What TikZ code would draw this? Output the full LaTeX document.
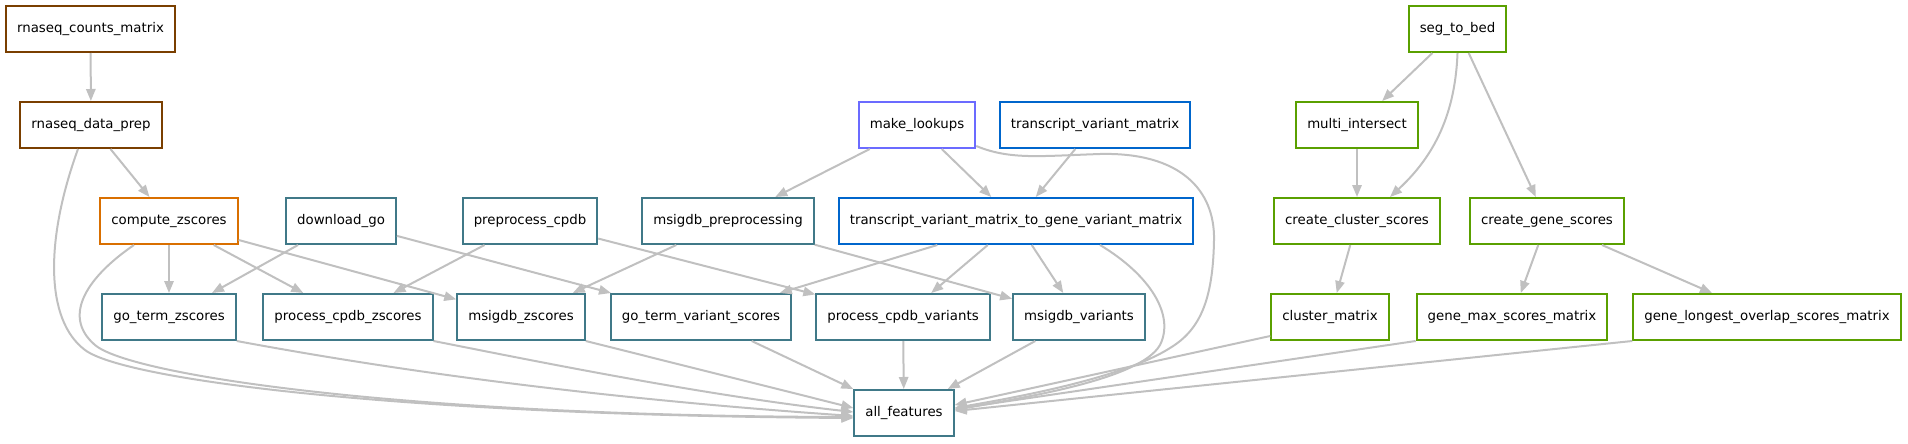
\documentclass[tikz,border=0pt]{standalone}
\usepackage{fontspec}
\setmainfont{DejaVu Sans}
\usetikzlibrary{arrows.meta,calc}

\definecolor{brownjob}{RGB}{122,63,0}
\definecolor{orangejob}{RGB}{217,111,0}
\definecolor{tealjob}{RGB}{64,121,136}
\definecolor{purplejob}{RGB}{107,107,255}
\definecolor{bluejob}{RGB}{0,102,204}
\definecolor{greenjob}{RGB}{90,160,0}
\definecolor{edgegray}{RGB}{192,192,192}

\tikzset{
  job/.style={draw, line width=1.5pt, fill=white, text=black, minimum height=34.5pt,
    inner xsep=8.25pt, font={\fontsize{10pt}{12pt}\selectfont}},
  dep/.style={draw=edgegray, line width=1.5pt,
    -{Triangle[length=9pt,width=7pt]}}
}

\begin{document}
\begin{tikzpicture}[x=0.75pt,y=-0.75pt]
    \useasboundingbox (0,0) rectangle (1908,443);

    \node[job, draw=brownjob] (counts) at (90.5, 29) {rnaseq\_counts\_matrix};
    \node[job, draw=greenjob] (segbed) at (1457.5, 29) {seg\_to\_bed};

    \node[job, draw=brownjob] (prep) at (91, 125) {rnaseq\_data\_prep};
    \node[job, draw=purplejob] (lookups) at (917, 125) {make\_lookups};
    \node[job, draw=bluejob] (tvm) at (1095, 125) {transcript\_variant\_matrix};
    \node[job, draw=greenjob] (multi) at (1357, 125) {multi\_intersect};

    \node[job, draw=orangejob] (compute) at (169, 221) {compute\_zscores};
    \node[job, draw=tealjob] (downloadgo) at (341, 221) {download\_go};
    \node[job, draw=tealjob] (precpdb) at (530, 221) {preprocess\_cpdb};
    \node[job, draw=tealjob] (msigprep) at (728, 221) {msigdb\_preprocessing};
    \node[job, draw=bluejob] (tvmgvm) at (1016, 221) {transcript\_variant\_matrix\_to\_gene\_variant\_matrix};
    \node[job, draw=greenjob] (clusterscores) at (1357, 221) {create\_cluster\_scores};
    \node[job, draw=greenjob] (genescores) at (1547, 221) {create\_gene\_scores};

    \node[job, draw=tealjob] (gotermz) at (169, 317) {go\_term\_zscores};
    \node[job, draw=tealjob] (cpdbz) at (348, 317) {process\_cpdb\_zscores};
    \node[job, draw=tealjob] (msigz) at (521, 317) {msigdb\_zscores};
    \node[job, draw=tealjob] (gotermvar) at (701, 317) {go\_term\_variant\_scores};
    \node[job, draw=tealjob] (cpdbvar) at (903, 317) {process\_cpdb\_variants};
    \node[job, draw=tealjob] (msigvar) at (1079, 317) {msigdb\_variants};
    \node[job, draw=greenjob] (clustermat) at (1330, 317) {cluster\_matrix};
    \node[job, draw=greenjob] (genemax) at (1512, 317) {gene\_max\_scores\_matrix};
    \node[job, draw=greenjob] (genelongest) at (1767, 317) {gene\_longest\_overlap\_scores\_matrix};

    \node[job, draw=tealjob] (allfeat) at (904, 413) {all\_features};

    \draw[dep] (counts) -- (prep);
    \draw[dep] (prep) -- (compute);
    \draw[dep] ($(prep.south)+(-13,0)$) .. controls (45,240) and (45,320) .. (85,350)
        .. controls (125,380) and (400,415) .. ($(allfeat.west)+(0,5)$);
    \draw[dep] (compute) -- (gotermz);
    \draw[dep] (compute) -- (cpdbz);
    \draw[dep] (compute) -- (msigz);
    \draw[dep] ($(compute.south)+(-35,0)$) .. controls (90,275) and (60,315) .. (95,345)
        .. controls (130,375) and (400,416) .. ($(allfeat.west)+(0,4)$);
    \draw[dep] (downloadgo) -- (gotermz);
    \draw[dep] (downloadgo) -- (gotermvar);
    \draw[dep] (precpdb) -- (cpdbz);
    \draw[dep] (precpdb) -- (cpdbvar);
    \draw[dep] (msigprep) -- (msigz);
    \draw[dep] (msigprep) -- (msigvar);
    \draw[dep] (lookups) -- (msigprep);
    \draw[dep] (lookups) -- (tvmgvm);
    \draw[dep] ($(lookups.east)+(0,21)$) .. controls (1010,160) and (1040,156) .. (1100,154)
        .. controls (1180,152) and (1215,190) .. (1214,240)
        .. controls (1213,300) and (1200,330) .. (1170,348)
        .. controls (1120,380) and (1000,400) .. ($(allfeat.east)+(0,-5)$);
    \draw[dep] (tvm) -- (tvmgvm);
    \draw[dep] (tvmgvm) -- (gotermvar);
    \draw[dep] (tvmgvm) -- (cpdbvar);
    \draw[dep] (tvmgvm) -- (msigvar);
    \draw[dep] ($(tvmgvm.south)+(84,0)$) .. controls (1150,275) and (1175,315) .. (1160,345)
        .. controls (1140,380) and (1020,398) .. ($(allfeat.east)+(0,-3)$);
    \draw[dep] (gotermz.south east) .. controls (350,362) and (550,395) .. ($(allfeat.west)+(0,3)$);
    \draw[dep] (cpdbz.south east) .. controls (520,358) and (700,395) .. ($(allfeat.west)+(0,-1)$);
    \draw[dep] (msigz.south east) -- ($(allfeat.west)+(0,-5)$);
    \draw[dep] (gotermvar) -- (allfeat);
    \draw[dep] (cpdbvar) -- (allfeat);
    \draw[dep] (msigvar) -- (allfeat);

    \draw[dep] (segbed) -- (multi);
    \draw[dep] (segbed.south) .. controls (1455,120) and (1430,160) .. ($(clusterscores.north)+(33,0)$);
    \draw[dep] (segbed) -- (genescores);
    \draw[dep] (multi) -- (clusterscores);
    \draw[dep] (clusterscores) -- (clustermat);
    \draw[dep] (genescores) -- (genemax);
    \draw[dep] (genescores) -- (genelongest);
    \draw[dep] ($(clustermat.west)+(0,19)$) -- ($(allfeat.east)+(0,-8)$);
    \draw[dep] (genemax.south west) -- ($(allfeat.east)+(0,-4)$);
    \draw[dep] (genelongest.south west) -- ($(allfeat.east)+(0,-2)$);
\end{tikzpicture}
\end{document}
